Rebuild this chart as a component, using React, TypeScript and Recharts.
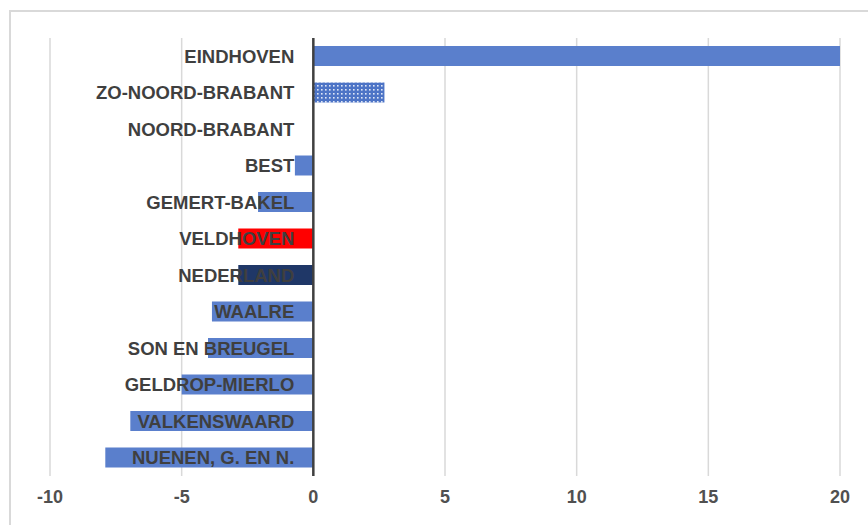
import React from "react";
import { BarChart, Bar, XAxis, YAxis, CartesianGrid, ReferenceLine, ReferenceDot, Cell } from "recharts";

const categories = [
  "EINDHOVEN",
  "ZO-NOORD-BRABANT",
  "NOORD-BRABANT",
  "BEST",
  "GEMERT-BAKEL",
  "VELDHOVEN",
  "NEDERLAND",
  "WAALRE",
  "SON EN BREUGEL",
  "GELDROP-MIERLO",
  "VALKENSWAARD",
  "NUENEN, G. EN N.",
];
const values = [20, 2.7, 0, -0.7, -2.1, -2.85, -2.85, -3.85, -4.0, -5.0, -6.95, -7.9];
const barFills = [
  "#5a7fcc",
  "url(#dots)",
  "#5a7fcc",
  "#5a7fcc",
  "#5a7fcc",
  "#ff0000",
  "#1f3767",
  "#5a7fcc",
  "#5a7fcc",
  "#5a7fcc",
  "#5a7fcc",
  "#5a7fcc",
];
const xTicks = [-10, -5, 0, 5, 10, 15, 20];

const data = categories.map((name, i) => ({ name, value: values[i] }));

const makeLabel = (text: string) => (props: any) => {
  const vb = props.viewBox || {};
  const cx = Number(vb.x) + Number(vb.width || 0) / 2;
  const cy = Number(vb.y) + Number(vb.height || 0) / 2;
  return (
    <text
      x={cx - 19}
      y={cy}
      textAnchor="end"
      dominantBaseline="central"
      fill="#3f3f3f"
      fontFamily="'Liberation Sans', Arial, sans-serif"
      fontWeight="bold"
      fontSize={18.5}
    >
      {text}
    </text>
  );
};

export default function App() {
  return (
    <div style={{ position: "absolute", left: 0, top: 0, width: 868, height: 525, background: "#fff", overflow: "hidden" }}>
      <div
        style={{
          position: "absolute",
          left: 9,
          top: 10,
          width: 880,
          height: 540,
          border: "2px solid #d9d9d9",
          boxSizing: "border-box",
        }}
      />
      <div style={{ position: "absolute", left: 0, top: 0 }}>
        <BarChart
          width={868}
          height={525}
          data={data}
          layout="vertical"
          margin={{ top: 38, right: 28, left: 50, bottom: 19 }}
          barSize={20}
        >
          <defs>
            <pattern id="dots" width="4" height="4" patternUnits="userSpaceOnUse">
              <rect x="0" y="0" width="4" height="4" fill="#4d74c6" />
              <rect x="1" y="1" width="1.6" height="1.6" fill="#dfe7f7" />
            </pattern>
          </defs>
          <CartesianGrid horizontal={false} vertical={true} stroke="#d9d9d9" strokeWidth={1.5} />
          <XAxis
            type="number"
            domain={[-10, 20]}
            ticks={xTicks}
            axisLine={false}
            tickLine={false}
            tickSize={0}
            tickMargin={14}
            height={30}
            interval={0}
            tick={{ fill: "#505050", fontSize: 18, fontWeight: "bold", fontFamily: "'Liberation Sans', Arial, sans-serif" }}
          />
          <YAxis type="category" dataKey="name" hide width={0} />
          <Bar dataKey="value" isAnimationActive={false}>
            {data.map((d, i) => (
              <Cell key={d.name} fill={barFills[i]} />
            ))}
          </Bar>
          <ReferenceLine x={0} stroke="#404040" strokeWidth={2.5} />
          {categories.map((c) => (
            <ReferenceDot
              key={c}
              x={0}
              y={c}
              r={0}
              fill="none"
              stroke="none"
              ifOverflow="visible"
              label={{ content: makeLabel(c) }}
            />
          ))}
        </BarChart>
      </div>
    </div>
  );
}
